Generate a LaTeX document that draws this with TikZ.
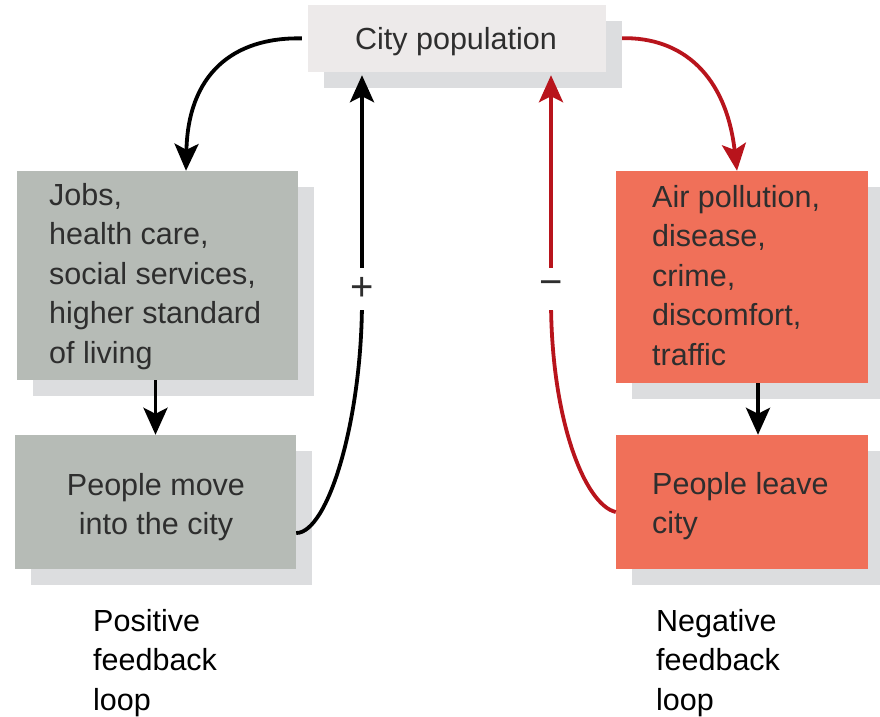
\documentclass[tikz,border=0pt]{standalone}
\usepackage{fontspec}
\setmainfont{Liberation Sans}
\usetikzlibrary{arrows.meta,shadows}
\definecolor{citybg}{HTML}{EDEAEA}
\definecolor{shadowc}{HTML}{DCDDDF}
\definecolor{graybox}{HTML}{B6BBB6}
\definecolor{redbox}{HTML}{F07059}
\definecolor{redline}{HTML}{B8141C}
\definecolor{txt}{HTML}{2E2E2E}
\begin{document}
\begin{tikzpicture}[x=1pt,y=-1pt,
  box/.style={rectangle, inner sep=0pt, draw=none,
    drop shadow={shadow xshift=16pt, shadow yshift=-16pt, fill=shadowc, opacity=1}},
  lbl/.style={inner sep=0pt, text=txt, font=\fontsize{30.5}{39.5}\selectfont},
  conn/.style={line width=3.8pt, -{Stealth[length=27pt,width=24pt,inset=6pt]}},
  sign/.style={fill=white, inner sep=0pt, minimum width=4pt, minimum height=42pt,
    text=txt, font=\fontsize{40}{44}\selectfont}]
\useasboundingbox (0,0) rectangle (880,716);

% boxes
\node[box, fill=citybg, minimum width=298pt, minimum height=67pt] (city) at (457,38.5) {};
\node[box, fill=graybox, minimum width=281pt, minimum height=209pt] (jobs) at (157.5,275.5) {};
\node[box, fill=graybox, minimum width=281pt, minimum height=134pt] (move) at (155.5,502) {};
\node[box, fill=redbox, minimum width=252pt, minimum height=212pt] (air) at (742,277) {};
\node[box, fill=redbox, minimum width=252pt, minimum height=134pt] (leave) at (742,502) {};

% texts
\node[lbl, anchor=base] (citytext) at (456,49) {City population};
\node[lbl, anchor=base west] (jobstext) at (49,205)
  {\begin{tabular}[t]{@{}l@{}}Jobs,\\health care,\\social services,\\higher standard\\of living\end{tabular}};
\node[lbl, anchor=base] (movetext) at (156,495)
  {\begin{tabular}[t]{@{}c@{}}People move\\into the city\end{tabular}};
\node[lbl, anchor=base west] (airtext) at (652,207)
  {\begin{tabular}[t]{@{}l@{}}Air pollution,\\disease,\\crime,\\discomfort,\\traffic\end{tabular}};
\node[lbl, anchor=base west] (leavetext) at (652,494)
  {\begin{tabular}[t]{@{}l@{}}People leave\\city\end{tabular}};
\node[lbl, anchor=base west, text=black] (postext) at (93,631)
  {\begin{tabular}[t]{@{}l@{}}Positive\\feedback\\loop\end{tabular}};
\node[lbl, anchor=base west, text=black] (negtext) at (656,631)
  {\begin{tabular}[t]{@{}l@{}}Negative\\feedback\\loop\end{tabular}};

% connectors
\draw[conn, shorten <=6pt] (city.west) .. controls (232,37) and (188,75) .. ([xshift=28.5pt]jobs.north);
\draw[conn, redline, shorten <=16pt] (city.east) .. controls (682,37) and (726,75) .. ([xshift=-5pt]air.north);
\draw[conn, shorten >=3pt] ([yshift=-31pt]move.east) .. controls (328,533) and (362,420) .. (362,300)
  -- node[sign, pos=0.05] (plus) {+} ([xshift=-95pt]city.south);
\draw[conn, redline, shorten >=3pt] ([yshift=-10pt]leave.west) .. controls (585,505) and (551,420) .. (551,300)
  -- node[sign, pos=0.05] (minus) {−} ([xshift=94pt]city.south);
\draw[conn] ([xshift=-2pt]jobs.south) -- ([xshift=0pt]move.north);
\draw[conn] ([xshift=16pt]air.south) -- ([xshift=16pt]leave.north);
\end{tikzpicture}
\end{document}
